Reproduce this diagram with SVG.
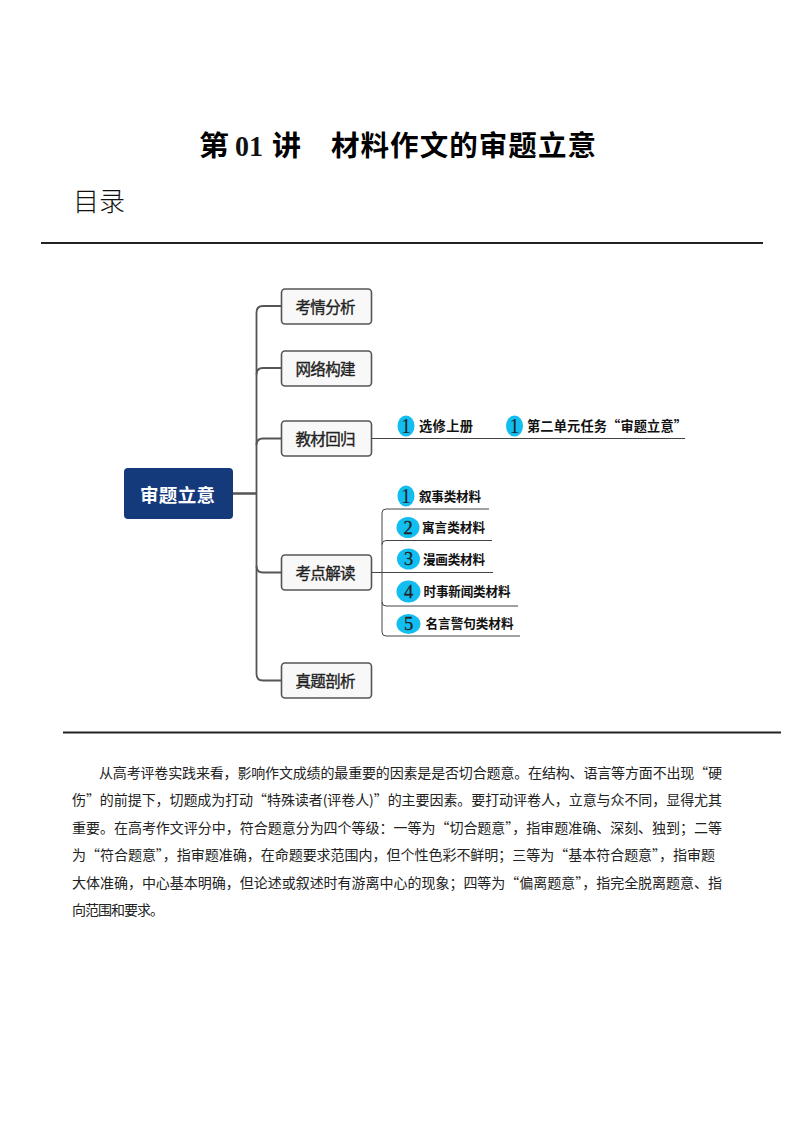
<svg xmlns="http://www.w3.org/2000/svg" width="794" height="1123" viewBox="0 0 794 1123">
<style>
text{font-family:"Noto Sans CJK SC","Liberation Sans",sans-serif;fill:#111}
.t{font-size:28.5px;font-weight:700;fill:#000}
.b{font-size:14px;fill:#222}
.n{font-size:15.5px;fill:#222;stroke:#222;stroke-width:.35}
.l{font-size:13.2px;font-weight:700;fill:#111}
.s{font-size:12.6px;font-weight:700;fill:#111}
.box{fill:#f8f8f8;stroke:#555;stroke-width:1.6}
.c1{fill:none;stroke:#555;stroke-width:1.8}
.c2{fill:none;stroke:#444;stroke-width:1}
.rule{stroke:#222;stroke-width:2.200}
.bd{fill:#12bdf0}
.d{font-family:"Liberation Serif",serif;font-size:18.500px;fill:#222;text-anchor:middle;stroke:#222;stroke-width:.3}
.one{font-weight:400;stroke-width:0;font-size:20px}
</style>
<rect width="794" height="1123" fill="#fff"/>
<g id="heading">
<text class="t" x="199" y="156" textLength="30" lengthAdjust="spacingAndGlyphs">第</text>
<text x="235" y="155.500" font-size="30" font-weight="700" fill="#000" style="font-family:'Liberation Serif',serif" textLength="28" lengthAdjust="spacingAndGlyphs">01</text>
<text class="t" x="272" y="156" textLength="29" lengthAdjust="spacingAndGlyphs">讲</text>
<text class="t" x="331" y="156" textLength="265">材料作文的审题立意</text>
<text x="73" y="211" font-size="26" font-weight="300" fill="#111" textLength="52">目录</text>
<line class="rule" x1="41" y1="243" x2="763" y2="243"/>
<line class="rule" x1="63" y1="732.500" x2="781" y2="732.500"/>
</g>
<g id="connectors">
<path class="c1" stroke-width="2.500" style="stroke-width:2.500" d="M233 493.500H257"/>
<path class="c1" d="M281.500 306H263q-6.500 0-6.500 6.500V674q0 6.500 6.500 6.500H281.500"/>
<path class="c1" d="M281.500 368H263q-6.500 0-6.500 6.500"/>
<path class="c1" d="M281.500 438.500H263q-6.500 0-6.500 6.500"/>
<path class="c1" d="M281.500 572.500H263q-6.500 0-6.500-6.500"/>
<path class="c2" d="M371.500 438.500H685"/>
<path class="c2" d="M371.500 572.500H493"/>
<path class="c2" d="M489 509H386q-4 0-4 4V632q0 4 4 4H520"/>
<path class="c2" d="M492 540.500H386q-4 0-4 4"/>
<path class="c2" d="M518 606H386q-4 0-4-4"/>
</g>
<g id="root">
<rect x="124" y="468" width="109" height="51" rx="4" fill="#153a7c"/>
<text x="140" y="501.500" font-size="18.500" font-weight="700" style="fill:#fff" textLength="75">审题立意</text>
</g>
<g id="n1"><rect class="box" x="281.500" y="289" width="90" height="35" rx="3.500"/><text class="n" x="295.500" y="312.500" textLength="60">考情分析</text></g>
<g id="n2"><rect class="box" x="281.500" y="351" width="90" height="35" rx="3.500"/><text class="n" x="295.500" y="374.500" textLength="60">网络构建</text></g>
<g id="n3"><rect class="box" x="281.500" y="421" width="90" height="35" rx="3.500"/><text class="n" x="295.500" y="444.500" textLength="60">教材回归</text></g>
<g id="n4"><rect class="box" x="281.500" y="555" width="90" height="35" rx="3.500"/><text class="n" x="295.500" y="578.500" textLength="60">考点解读</text></g>
<g id="n5"><rect class="box" x="281.500" y="663" width="90" height="35" rx="3.500"/><text class="n" x="295.500" y="686.500" textLength="60">真题剖析</text></g>
<g id="a1"><ellipse class="bd" cx="406" cy="426" rx="8.500" ry="10.500"/><text class="d one" x="406" y="433">1</text><text class="l" x="419" y="431" textLength="54">选修上册</text></g>
<g id="a2"><ellipse class="bd" cx="514.500" cy="426" rx="8.500" ry="10.500"/><text class="d one" x="514.500" y="433">1</text><text class="l" x="527" y="431" textLength="160">第二单元任务“审题立意”</text></g>
<g id="m1"><ellipse class="bd" cx="406" cy="496" rx="8.500" ry="10.500"/><text class="d one" x="406" y="503">1</text><text class="s" x="419" y="500.500" textLength="62">叙事类材料</text></g>
<g id="m2"><ellipse class="bd" cx="408" cy="527.500" rx="11.500" ry="10.500"/><text class="d" x="408" y="533.500">2</text><text class="s" x="422" y="532" textLength="63">寓言类材料</text></g>
<g id="m3"><ellipse class="bd" cx="408.500" cy="559" rx="11.500" ry="10.500"/><text class="d" x="408.500" y="565">3</text><text class="s" x="423" y="564" textLength="62">漫画类材料</text></g>
<g id="m4"><ellipse class="bd" cx="408.500" cy="591.500" rx="12" ry="11"/><text class="d" x="408.500" y="597.500">4</text><text class="s" x="423.500" y="596" textLength="87">时事新闻类材料</text></g>
<g id="m5"><ellipse class="bd" cx="408.500" cy="624" rx="12" ry="10"/><text class="d" x="408.500" y="630">5</text><text class="s" x="425.500" y="628" textLength="88">名言警句类材料</text></g>
<g id="body">
<text class="b" x="99" y="778" textLength="623">从高考评卷实践来看，影响作文成绩的最重要的因素是是否切合题意。在结构、语言等方面不出现“硬</text>
<text class="b" x="72" y="805" textLength="650">伤”的前提下，切题成为打动“特殊读者(评卷人)”的主要因素。要打动评卷人，立意与众不同，显得尤其</text>
<text class="b" x="72" y="832.500" textLength="650">重要。在高考作文评分中，符合题意分为四个等级：一等为“切合题意”，指审题准确、深刻、独到；二等</text>
<text class="b" x="72" y="860" textLength="643">为“符合题意”，指审题准确，在命题要求范围内，但个性色彩不鲜明；三等为“基本符合题意”，指审题</text>
<text class="b" x="72" y="887.500" textLength="650">大体准确，中心基本明确，但论述或叙述时有游离中心的现象；四等为“偏离题意”，指完全脱离题意、指</text>
<text class="b" x="72" y="915" textLength="92">向范围和要求。</text>
</g>
</svg>
